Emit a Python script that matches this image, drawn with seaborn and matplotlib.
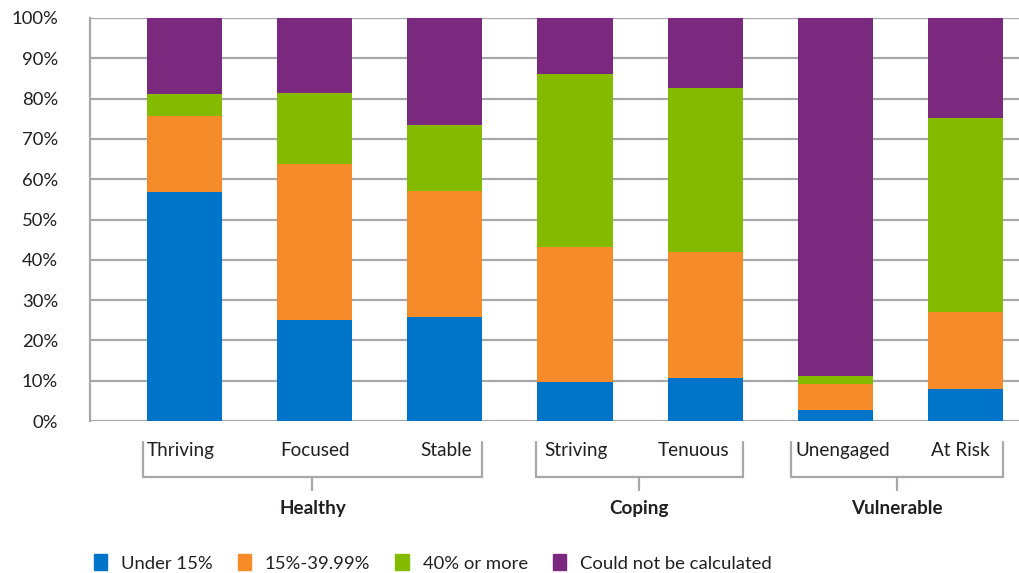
import matplotlib
matplotlib.use("Agg")
import matplotlib.pyplot as plt
import matplotlib.patches as mpatches
import matplotlib.transforms as mtransforms
import seaborn as sns
import numpy as np
import pandas as pd

categories = ["Thriving", "Focused", "Stable", "Striving", "Tenuous", "Unengaged", "At Risk"]
under15 = [56.8, 25.1, 25.8, 9.7, 10.7, 2.7, 7.9]
mid15_40 = [18.9, 38.7, 31.3, 33.5, 31.2, 6.5, 19.1]
over40 = [5.4, 17.5, 16.3, 42.9, 40.7, 2.0, 48.2]
not_calc = [18.9, 18.7, 26.6, 13.9, 17.4, 88.8, 24.8]
series_names = ["Under 15%", "15%-39.99%", "40% or more", "Could not be calculated"]
colors = ["#0074C8", "#F68B2A", "#84BB00", "#7A297F"]
groups = ["Healthy", "Coping", "Vulnerable"]
group_members = [[0, 1, 2], [3, 4], [5, 6]]
yticks = [0, 10, 20, 30, 40, 50, 60, 70, 80, 90, 100]

sns.set_theme(style="white")
plt.rcParams["font.family"] = ["Lato", "DejaVu Sans"]

GRID = "#A7A8AB"
TXT = "#231F20"

fig = plt.figure(figsize=(10.2, 5.73), dpi=100)
ax = fig.add_axes([90 / 1020, 1 - 421 / 573, 1 - 90 / 1020, 403 / 573])

vals = np.array([under15, mid15_40, over40, not_calc])
cum = np.cumsum(vals, axis=0)
df = pd.DataFrame({"cat": categories})
for i in range(3, -1, -1):
    df["v"] = cum[i]
    sns.barplot(data=df, x="cat", y="v", color=colors[i], saturation=1,
                width=0.577, ax=ax, zorder=3, linewidth=0, order=categories)

ax.set_xlim(-0.727, 6.42)
ax.set_ylim(0, 100)
ax.set_yticks(yticks)
ax.set_yticklabels([f"{t}%" for t in yticks], fontsize=13.3, color=TXT)
ax.tick_params(axis="y", length=0, pad=23)
ax.set_xticks([])
ax.set_xlabel("")
ax.set_ylabel("")
for y in yticks:
    ax.axhline(y, color=GRID, lw=1.6, zorder=1)
for s in ["top", "right", "bottom"]:
    ax.spines[s].set_visible(False)
ax.spines["left"].set_color(GRID)
ax.spines["left"].set_linewidth(1.6)

trans = mtransforms.blended_transform_factory(ax.transData, ax.transAxes)
label_nudge = [-0.027, 0, 0.01, 0.01, -0.09, 0.055, -0.04]
for i, c in enumerate(categories):
    ax.text(i + label_nudge[i], -0.074, c, transform=trans, ha="center", va="center",
            fontsize=13.6, color=TXT)

hw = 0.2885
left_extra = [0.035, 0.012, 0.05]
y_top, y_bot, y_tick = -0.052, -0.139, -0.171
for g, members, le in zip(groups, group_members, left_extra):
    x0 = members[0] - hw - le
    x1 = members[-1] + hw
    xm = (x0 + x1) / 2
    ax.plot([x0, x0, x1, x1], [y_top, y_bot, y_bot, y_top], transform=trans,
            color=GRID, lw=1.6, clip_on=False, solid_joinstyle="miter")
    ax.plot([xm, xm], [y_bot, y_tick], transform=trans, color=GRID, lw=1.6,
            clip_on=False)
    ax.text(xm, -0.216, g, transform=trans, ha="center", va="center",
            fontsize=13.6, fontweight="bold", color=TXT)

handles = [mpatches.Patch(color=c, label=n) for c, n in zip(colors, series_names)]
fig.legend(handles=handles, loc="center left", bbox_to_anchor=(94 / 1020, 1 - 563 / 573),
           ncol=4, frameon=False, fontsize=13.3, handlelength=0.72, handleheight=0.9,
           handletextpad=0.75, columnspacing=1.35, borderpad=0, borderaxespad=0,
           labelcolor=TXT)

fig.savefig("out.png", dpi=100)
